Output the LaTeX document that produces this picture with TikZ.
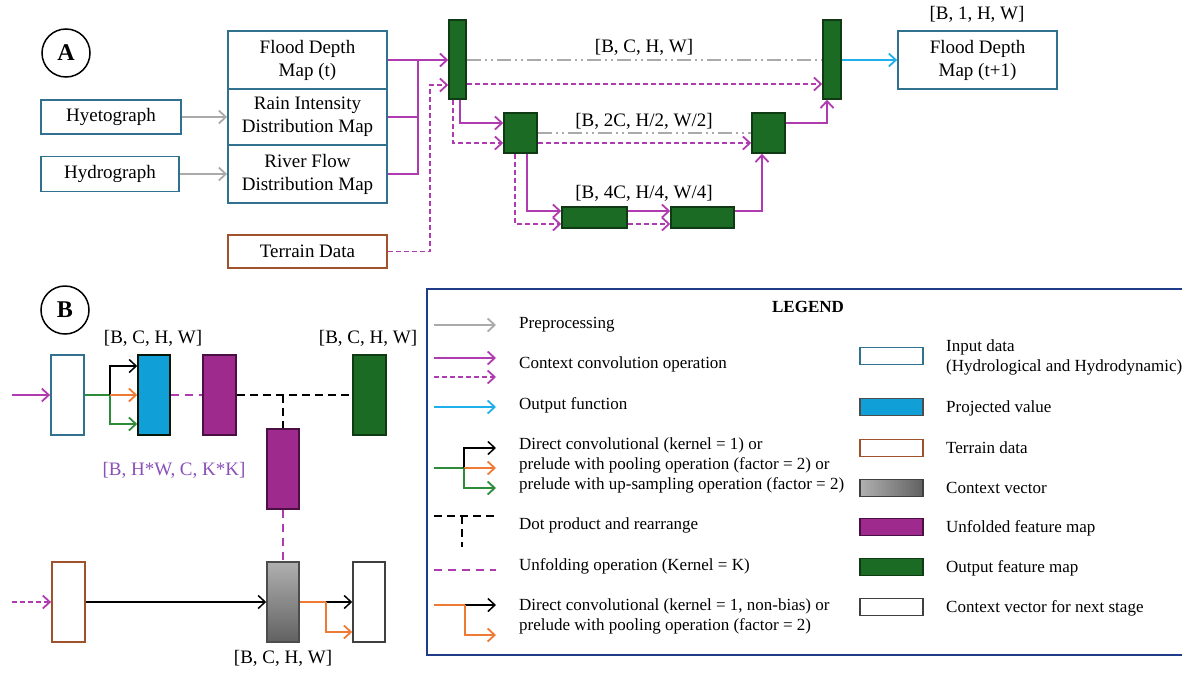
\documentclass[tikz,border=0pt]{standalone}
\usepackage{fontspec}
\setmainfont{Liberation Serif}
\usetikzlibrary{arrows.meta,calc}
\definecolor{inblue}{HTML}{31708F}
\definecolor{terr}{HTML}{A0522D}
\definecolor{gfill}{HTML}{1B6B24}
\definecolor{gdark}{HTML}{0F3A14}
\definecolor{magc}{HTML}{B03AB0}
\definecolor{grayc}{HTML}{AAAAAA}
\definecolor{cyanc}{HTML}{1FB0EC}
\definecolor{projc}{HTML}{119FD8}
\definecolor{purc}{HTML}{9E2A8E}
\definecolor{purd}{HTML}{4A1043}
\definecolor{orc}{HTML}{EE7A36}
\definecolor{garr}{HTML}{2E8B3A}
\definecolor{labpur}{HTML}{8A4FB8}
\definecolor{navyc}{HTML}{1F3C88}
\definecolor{graylt}{HTML}{B0B0B0}
\definecolor{graydk}{HTML}{616161}
\begin{document}
\begin{tikzpicture}[x=1pt,y=-1pt,
  >={Straight Barb[length=7pt,width=13pt]},
  font=\fontsize{19}{23}\selectfont,
  sz/.style 2 args={minimum width=#1pt,minimum height=#2pt},
  box/.style={draw=inblue,line width=1.8pt,fill=white,align=center,inner sep=0pt},
  tbox/.style={box,draw=terr},
  gbox/.style={draw=gdark,fill=gfill,line width=1.5pt,inner sep=0pt},
  pbox/.style={draw=purd,fill=purc,line width=1.5pt,inner sep=0pt},
  mag/.style={draw=magc,line width=1.8pt},
  magd/.style={mag,dash pattern=on 5pt off 3pt},
  magu/.style={mag,dash pattern=on 8pt off 6pt},
  grayarr/.style={draw=grayc,line width=1.8pt},
  dashdot/.style={draw=grayc,line width=1.8pt,dash pattern=on 14pt off 4pt on 2pt off 4pt on 2pt off 4pt},
  cyanarr/.style={draw=cyanc,line width=1.8pt},
  blk/.style={draw=black,line width=1.5pt},
  blkd/.style={blk,dash pattern=on 8pt off 5pt},
  orarr/.style={draw=orc,line width=1.8pt},
  grarr/.style={draw=garr,line width=1.8pt},
  lab/.style={inner sep=0pt},
  ltext/.style={font=\fontsize{17}{20}\selectfont,align=left,inner sep=0pt,anchor=west},
  swatch/.style={minimum width=63pt,minimum height=17pt,line width=1.8pt,inner sep=0pt},
  circ/.style={circle,draw,line width=1.5pt,minimum size=48pt,inner sep=0pt,font=\fontsize{24}{24}\bfseries\selectfont}
]
\useasboundingbox (0,0) rectangle (1182,672);

% ---------------- Part A ----------------
\node[circ] (cA) at (66,53) {A};
\node[box,sz={140}{34}] (hyeto) at (111,117) {Hyetograph};
\node[box,sz={138}{35}] (hydro) at (110,174) {Hydrograph};
\node[box,sz={159}{58}] (fd) at (307.5,60) {Flood Depth\\Map (t)};
\node[box,sz={159}{56}] (rain) at (307.5,117) {Rain Intensity\\Distribution Map};
\node[box,sz={159}{58}] (river) at (307.5,174) {River Flow\\Distribution Map};
\node[tbox,sz={159}{33}] (terrain) at (307.5,251.5) {Terrain Data};
\node[box,sz={159}{58}] (out) at (977.5,60) {Flood Depth\\Map (t+1)};

\node[gbox,sz={17}{79}] (g1) at (457.5,59.5) {};
\node[gbox,sz={18}{79}] (g2) at (832,59.5) {};
\node[gbox,sz={33}{40}] (g3) at (520.5,133) {};
\node[gbox,sz={33}{40}] (g4) at (768.5,133) {};
\node[gbox,sz={65}{21}] (g5) at (594.5,217.5) {};
\node[gbox,sz={63}{21}] (g6) at (702.5,217.5) {};

\node[lab] (la1) at (644,47) {[B, C, H, W]};
\node[lab] (la2) at (644,121) {[B, 2C, H/2, W/2]};
\node[lab] (la3) at (644,193) {[B, 4C, H/4, W/4]};
\node[lab] (la4) at (977,14) {[B, 1, H, W]};

\draw[grayarr,->] (hyeto.east) -- (rain.west);
\draw[grayarr,->] (hydro.east) -- (river.west);
\draw[mag,->] (fd.east) -- (g1.west |- fd.east);
\coordinate (jA) at (418,60);
\draw[mag] (rain.east) -| (jA);
\draw[mag] (river.east) -| (jA);
\coordinate (tj) at (430,85);
\draw[magd,->] (terrain.east) -| (tj) -- (tj -| g1.west);

\draw[dashdot] (g1.east |- 0,60) -- (g2.west |- 0,60);
\draw[magd,->] (g1.east |- 0,84) -- (g2.west |- 0,84);
\draw[mag,->] (g1.south -| 460,0) |- (g3.west |- 0,123);
\draw[magd,->] (g1.south -| 453,0) |- (g3.west |- 0,143);
\draw[dashdot] (g3.east) -- (g4.west);
\draw[magd,->] (g3.east |- 0,143) -- (g4.west |- 0,143);
\draw[mag,->] (g4.east |- 0,123) -| (g2.south -| 827,0);
\draw[mag,->] (g3.south -| 527,0) |- (g5.west |- 0,211);
\draw[magd,->] (g3.south -| 515,0) |- (g5.west |- 0,224);
\draw[mag,->] (g5.east |- 0,211) -- (g6.west |- 0,211);
\draw[magd,->] (g5.east |- 0,224) -- (g6.west |- 0,224);
\draw[mag,->] (g6.east |- 0,211) -| (g4.south -| 762,0);
\draw[cyanarr,->] (g2.east |- 0,60) -- (out.west);

% ---------------- Part B ----------------
\node[circ] (cB) at (65,310) {B};
\node[box,sz={33}{80}] (bin) at (67.5,395) {};
\node[box,draw=gdark!40!black,fill=projc,line width=1.5pt,sz={32}{80}] (bproj) at (154,395) {};
\node[pbox,sz={33}{80}] (bp1) at (219.5,395) {};
\node[gbox,sz={33}{80}] (bg) at (369.5,395) {};
\node[pbox,sz={32}{80}] (bp2) at (283,469) {};
\node[tbox,sz={33}{80}] (bter) at (68.5,602) {};
\node[draw=black!70,line width=1.5pt,top color=graylt,bottom color=graydk,inner sep=0pt,sz={32}{80}] (bgray) at (283,602) {};
\node[draw=black!75,line width=1.5pt,fill=white,inner sep=0pt,sz={32}{80}] (bwhite) at (369,602) {};

\node[lab] (lb1) at (153,338) {[B, C, H, W]};
\node[lab] (lb2) at (368,338) {[B, C, H, W]};
\node[lab,text=labpur] (lb3) at (174,470) {[B, H*W, C, K*K]};
\node[lab] (lb4) at (283,658) {[B, C, H, W]};

\coordinate (bin0) at (12,395);
\draw[mag,->] (bin0) -- (bin.west);
\coordinate (bj) at (110,395);
\draw[grarr] (bin.east) -- (bj);
\draw[grarr,->] (bj) |- (bproj.west |- 0,424);
\draw[blk,->] (bj) |- (bproj.west |- 0,366);
\draw[orarr,->] (bj) -- (bproj.west);
\draw[magu] (bproj.east) -- (bp1.west);
\draw[blkd] (bp1.east) -- (bg.west);
\draw[blkd] (bp2.north |- bp1.east) -- (bp2.north);
\draw[magu] (bp2.south) -- (bgray.north);
\coordinate (bter0) at (12,602);
\draw[magd,->] (bter0) -- (bter.west);
\draw[blk,->] (bter.east) -- (bgray.west);
\coordinate (bo) at (326,602);
\draw[orarr] (bgray.east) -- (bo);
\draw[blk,->] (bo) -- (bwhite.west);
\draw[orarr,->] (bo) |- (bwhite.west |- 0,632);

% ---------------- Legend ----------------
\draw[navyc,line width=1.6pt] (1190,289) -- (427,289) -- (427,655) -- (1190,655);
\node[font=\fontsize{17}{20}\bfseries\selectfont,inner sep=0pt] (legend) at (808,307) {LEGEND};

\coordinate (a1) at (434,325); \coordinate (b1) at (496,325);
\draw[grayarr,->] (a1) -- (b1);
\node[ltext] (t1) at (519,325) {Preprocessing};

\coordinate (a2) at (434,358); \coordinate (b2) at (496,358);
\draw[mag,->] (a2) -- (b2);
\coordinate (a3) at (434,377); \coordinate (b3) at (496,377);
\draw[magd,->] (a3) -- (b3);
\node[ltext] (t2) at (519,364) {Context convolution operation};

\coordinate (a4) at (434,407); \coordinate (b4) at (496,407);
\draw[cyanarr,->] (a4) -- (b4);
\node[ltext] (t3) at (519,405) {Output function};

\coordinate (a5) at (434,468); \coordinate (j5) at (464,468);
\coordinate (b5) at (496,448); \coordinate (c5) at (496,468); \coordinate (d5) at (496,488);
\draw[grarr] (a5) -- (j5);
\draw[blk,->] (j5) |- (b5);
\draw[orarr,->] (j5) -- (c5);
\draw[grarr,->] (j5) |- (d5);
\node[ltext] (t4) at (519,465) {Direct convolutional (kernel = 1) or\\prelude with pooling operation (factor = 2) or\\prelude with up-sampling operation (factor = 2)};

\coordinate (a6) at (434,516); \coordinate (b6) at (496,516);
\coordinate (j6) at (462,516); \coordinate (e6) at (462,547);
\draw[blkd] (a6) -- (b6);
\draw[blkd] (j6) -- (e6);
\node[ltext] (t5) at (519,525) {Dot product and rearrange};

\coordinate (a7) at (434,570); \coordinate (b7) at (496,570);
\draw[magu] (a7) -- (b7);
\node[ltext] (t6) at (519,566) {Unfolding operation (Kernel = K)};

\coordinate (a8) at (434,605); \coordinate (j8) at (465,605);
\coordinate (b8) at (496,605); \coordinate (c8) at (496,635);
\draw[orarr] (a8) -- (j8);
\draw[blk,->] (j8) -- (b8);
\draw[orarr,->] (j8) |- (c8);
\node[ltext] (t7) at (519,616) {Direct convolutional (kernel = 1, non-bias) or\\prelude with pooling operation (factor = 2)};

\node[swatch,draw=inblue,fill=white] (s1) at (891.5,356) {};
\node[ltext] (u1) at (946,357) {Input data\\(Hydrological and Hydrodynamic)};
\node[swatch,draw=black!70,fill=projc] (s2) at (891.5,407) {};
\node[ltext] (u2) at (946,408) {Projected value};
\node[swatch,draw=terr,fill=white] (s3) at (891.5,448) {};
\node[ltext] (u3) at (946,448) {Terrain data};
\node[swatch,draw=black!75,left color=graylt,right color=graydk] (s4) at (891.5,488) {};
\node[ltext] (u4) at (946,488) {Context vector};
\node[swatch,draw=purd,fill=purc] (s5) at (891.5,527) {};
\node[ltext] (u5) at (946,528) {Unfolded feature map};
\node[swatch,draw=gdark,fill=gfill] (s6) at (891.5,567) {};
\node[ltext] (u6) at (946,568) {Output feature map};
\node[swatch,draw=black!75,fill=white] (s7) at (891.5,607) {};
\node[ltext] (u7) at (946,608) {Context vector for next stage};
\end{tikzpicture}
\end{document}
